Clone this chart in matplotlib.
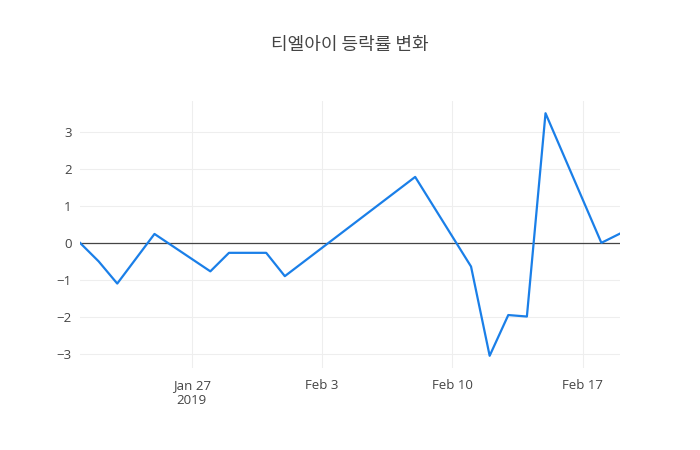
import numpy as np
import matplotlib
matplotlib.use("Agg")
import matplotlib.pyplot as plt

plt.rcParams['font.family'] = ['Open Sans', 'Noto Sans CJK KR', 'DejaVu Sans']

# 티엘아이 daily change (%)
dates = np.array(['2019-01-21', '2019-01-22', '2019-01-23', '2019-01-24', '2019-01-25',
                  '2019-01-28', '2019-01-29', '2019-01-30', '2019-01-31', '2019-02-01',
                  '2019-02-08', '2019-02-11', '2019-02-12', '2019-02-13', '2019-02-14',
                  '2019-02-15', '2019-02-18', '2019-02-19'], dtype='datetime64[D]')
changes = [0.0, -0.5, -1.1, -0.43, 0.24,
           -0.77, -0.27, -0.27, -0.27, -0.9,
           1.78, -0.64, -3.05, -1.95, -1.99,
           3.5, 0.0, 0.25]
tick_dates = np.array(['2019-01-27', '2019-02-03', '2019-02-10', '2019-02-17'], dtype='datetime64[D]')
tick_labels = ['Jan 27\n2019', 'Feb 3', 'Feb 10', 'Feb 17']
title = '티엘아이 등락률 변화'

fig = plt.figure(figsize=(7, 4.5), dpi=100)
ax = fig.add_axes([80 / 700, 82 / 450, 540 / 700, 267 / 450])

ax.plot(dates, changes, color='#1a7fe8', linewidth=1.6, zorder=3)
ax.axhline(0, color='#444444', linewidth=0.9, zorder=2)

ax.set_xlim(dates[0], dates[-1])
ax.set_ylim(-3.38, 3.83)
ax.set_yticks([-3, -2, -1, 0, 1, 2, 3])
ax.set_xticks(tick_dates)
ax.set_xticklabels(tick_labels)

ax.grid(color='#eeeeee', linewidth=0.8)
ax.set_axisbelow(True)
for s in ax.spines.values():
    s.set_visible(False)
ax.tick_params(length=0, colors='#444444', labelsize=9.5, pad=6)
ax.tick_params(axis='x', pad=8)

fig.text(0.5, 1 - 45 / 450, title, ha='center', va='center', fontsize=13,
         color='#444444', family=['Noto Sans CJK KR', 'DejaVu Sans'])

fig.savefig('out.png', dpi=100, facecolor='white')
